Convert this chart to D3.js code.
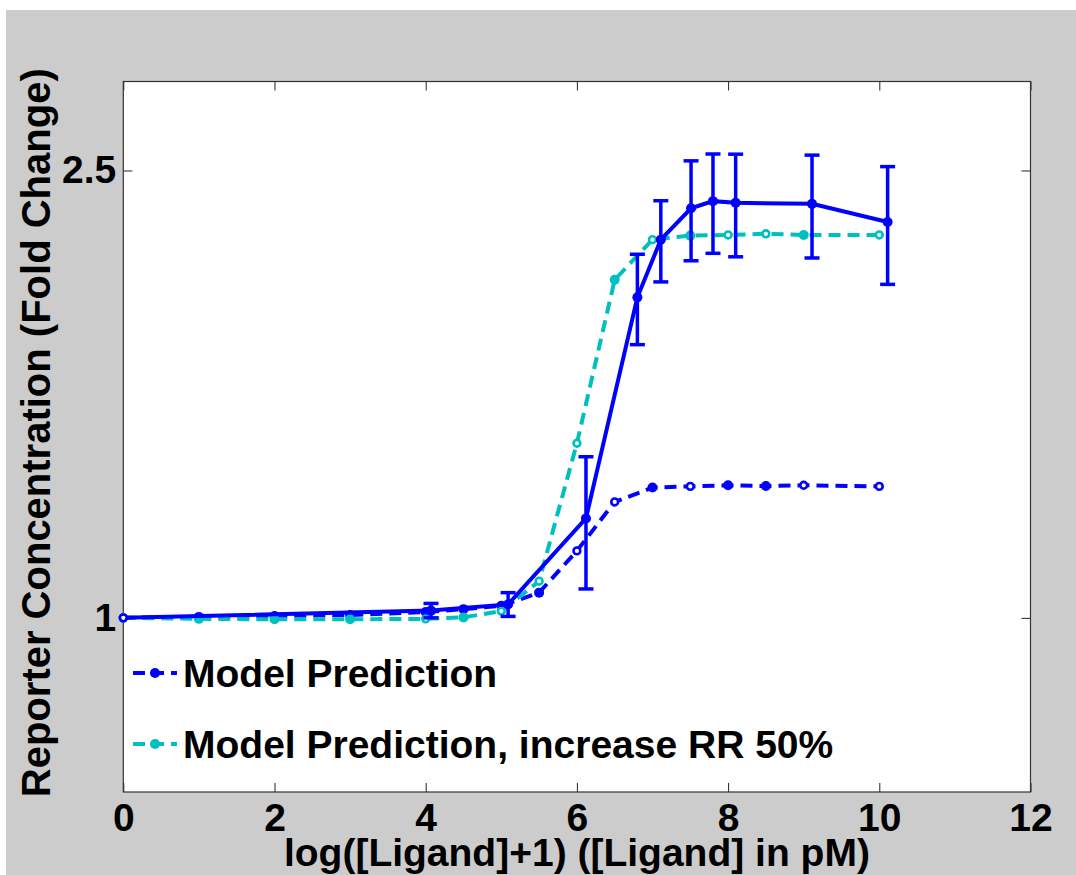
<!DOCTYPE html>
<html>
<head>
<meta charset="utf-8">
<script src="https://cdn.jsdelivr.net/npm/d3@7"></script>
<style>
  html, body { margin: 0; padding: 0; background: #ffffff; }
  svg { display: block; }
  text { font-family: "Liberation Sans", Arial, sans-serif; font-weight: bold; fill: #000; }
</style>
</head>
<body>
<svg id="chart" width="1076" height="875"></svg>
<script>
// ---------------- data ----------------
const xTicks = [0, 2, 4, 6, 8, 10, 12];
const yTicks = [1, 2.5];
const yTickLabels = ["1", "2.5"];

// Experimental measurements (solid line with error bars)
const expX   = [0, 4.07, 5.09, 6.12, 6.80, 7.11, 7.51, 7.80, 8.10, 9.11, 10.11];
const expY   = [1.0, 1.015, 1.028, 1.226, 1.928, 2.170, 2.314, 2.348, 2.340, 2.335, 2.250];
const expErr = [0, 0.015, 0.025, 0.165, 0.178, 0.180, 0.236, 0.238, 0.245, 0.245, 0.270];

// Model prediction (blue dashed)
const modelX = [0, 1, 2, 3, 4, 4.5, 5, 5.5, 6, 6.5, 7, 7.5, 8, 8.5, 9, 10];
const modelY = [1.0, 1.002, 1.004, 1.006, 1.012, 1.018, 1.025, 1.053, 1.147, 1.268, 1.306, 1.309, 1.312, 1.310, 1.312, 1.309];
const modelHollow = [0, 8, 9, 11, 14, 15]; // indices drawn with hollow marker

// Model prediction, increase RR 50% (cyan dashed)
const rrX = [0, 1, 2, 3, 4, 4.5, 5, 5.5, 6, 6.5, 7, 7.5, 8, 8.5, 9, 10];
const rrY = [1.0, 0.998, 0.997, 0.997, 0.998, 1.001, 1.014, 1.078, 1.430, 1.999, 2.170, 2.188, 2.191, 2.196, 2.191, 2.191];
const rrHollow = [0, 4, 6, 7, 8, 10, 12, 13, 15];

const legendLabels = ["Model Prediction", "Model Prediction, increase RR 50%"];
const xLabel = "log([Ligand]+1) ([Ligand] in pM)";
const yLabel = "Reporter Concentration (Fold Change)";

// ---------------- layout ----------------
const BLUE = "#0000ff", CYAN = "#00bfbf";
const plot = { left: 123.3, right: 1030.5, top: 81.5, bottom: 792 };
const svg = d3.select("#chart");

// figure background
svg.append("rect").attr("x", 6).attr("y", 10).attr("width", 1070).attr("height", 865).attr("fill", "#cccccc");
// axes background
svg.append("rect").attr("x", plot.left).attr("y", plot.top)
  .attr("width", plot.right - plot.left).attr("height", plot.bottom - plot.top).attr("fill", "#ffffff");

const x = d3.scaleLinear().domain([0, 12]).range([plot.left, plot.right]);
const y = d3.scaleLog().domain([0.7, 3]).range([plot.bottom, plot.top]);

const FS = 39;

// axes
const gB = svg.append("g").attr("transform", `translate(0,${plot.bottom})`)
  .call(d3.axisBottom(x).tickValues(xTicks).tickSizeInner(-9).tickSizeOuter(0).tickPadding(11).tickFormat(d3.format("d")));
const gT = svg.append("g").attr("transform", `translate(0,${plot.top})`)
  .call(d3.axisTop(x).tickValues(xTicks).tickSizeInner(-9).tickSizeOuter(0).tickFormat(""));
const gL = svg.append("g").attr("transform", `translate(${plot.left},0)`)
  .call(d3.axisLeft(y).tickValues(yTicks).tickSizeInner(-9).tickSizeOuter(0).tickPadding(7)
    .tickFormat((d, i) => yTickLabels[i]));
const gR = svg.append("g").attr("transform", `translate(${plot.right},0)`)
  .call(d3.axisRight(y).tickValues(yTicks).tickSizeInner(-9).tickSizeOuter(0).tickFormat(""));
[gB, gT, gL, gR].forEach(g => {
  g.select(".domain").remove();
  g.selectAll(".tick line").attr("stroke", "#222").attr("stroke-width", 1);
  g.selectAll(".tick text").attr("font-size", FS).attr("font-family", "Liberation Sans, Arial, sans-serif")
    .attr("font-weight", "bold").attr("fill", "#000");
});

// frame
svg.append("rect").attr("x", plot.left).attr("y", plot.top)
  .attr("width", plot.right - plot.left).attr("height", plot.bottom - plot.top)
  .attr("fill", "none").attr("stroke", "#333").attr("stroke-width", 1.2);

// axis labels
svg.append("text").attr("x", (plot.left + plot.right) / 2).attr("y", 866)
  .attr("text-anchor", "middle").attr("font-size", FS).text(xLabel);
svg.append("text").attr("transform", `translate(50,${(plot.top + plot.bottom) / 2 - 4}) rotate(-90)`)
  .attr("text-anchor", "middle").attr("font-size", 40).text(yLabel);

// ---------------- series ----------------
const line = d3.line().x(d => x(d[0])).y(d => y(d[1]));
const data = (xs, ys) => xs.map((v, i) => [v, ys[i]]);

const plotG = svg.append("g");

function drawMarkers(g, pts, color, hollow) {
  g.selectAll(null).data(pts).enter().append("circle")
    .attr("cx", d => x(d[0])).attr("cy", d => y(d[1]))
    .attr("r", (d, i) => hollow.includes(i) ? 3.4 : 5)
    .attr("fill", (d, i) => hollow.includes(i) ? "#fff" : color)
    .attr("stroke", color)
    .attr("stroke-width", (d, i) => hollow.includes(i) ? 2.6 : 0);
}

// model (blue dashed)
const mPts = data(modelX, modelY);
plotG.append("path").attr("d", line(mPts)).attr("fill", "none").attr("stroke", BLUE)
  .attr("stroke-width", 4).attr("stroke-dasharray", "12,7");
drawMarkers(plotG.append("g"), mPts, BLUE, modelHollow);

// RR +50% (cyan dashed)
const rPts = data(rrX, rrY);
plotG.append("path").attr("d", line(rPts)).attr("fill", "none").attr("stroke", CYAN)
  .attr("stroke-width", 4).attr("stroke-dasharray", "12,7");
drawMarkers(plotG.append("g"), rPts, CYAN, rrHollow);

// experimental (solid with error bars)
const ePts = data(expX, expY);
plotG.append("path").attr("d", line(ePts)).attr("fill", "none").attr("stroke", BLUE).attr("stroke-width", 4);
const eb = plotG.append("g").attr("stroke", BLUE).attr("stroke-width", 3.5);
ePts.forEach((d, i) => {
  if (expErr[i] <= 0) return;
  const cx = x(d[0]), y0 = y(d[1] - expErr[i]), y1 = y(d[1] + expErr[i]);
  eb.append("line").attr("x1", cx).attr("x2", cx).attr("y1", y0).attr("y2", y1);
  eb.append("line").attr("x1", cx - 7.5).attr("x2", cx + 7.5).attr("y1", y0).attr("y2", y0);
  eb.append("line").attr("x1", cx - 7.5).attr("x2", cx + 7.5).attr("y1", y1).attr("y2", y1);
});
drawMarkers(plotG.append("g"), ePts, BLUE, [0]);

// ---------------- legend ----------------
const legColors = [BLUE, CYAN];
const legY = [673, 744];
legendLabels.forEach((lab, i) => {
  const g = svg.append("g");
  g.append("line").attr("x1", 133).attr("x2", 177).attr("y1", legY[i]).attr("y2", legY[i])
    .attr("stroke", legColors[i]).attr("stroke-width", 4).attr("stroke-dasharray", "12,7");
  g.append("circle").attr("cx", 155).attr("cy", legY[i]).attr("r", 5).attr("fill", legColors[i]);
  g.append("text").attr("x", 183).attr("y", legY[i] + 14).attr("font-size", FS).text(lab);
});
</script>
</body>
</html>
